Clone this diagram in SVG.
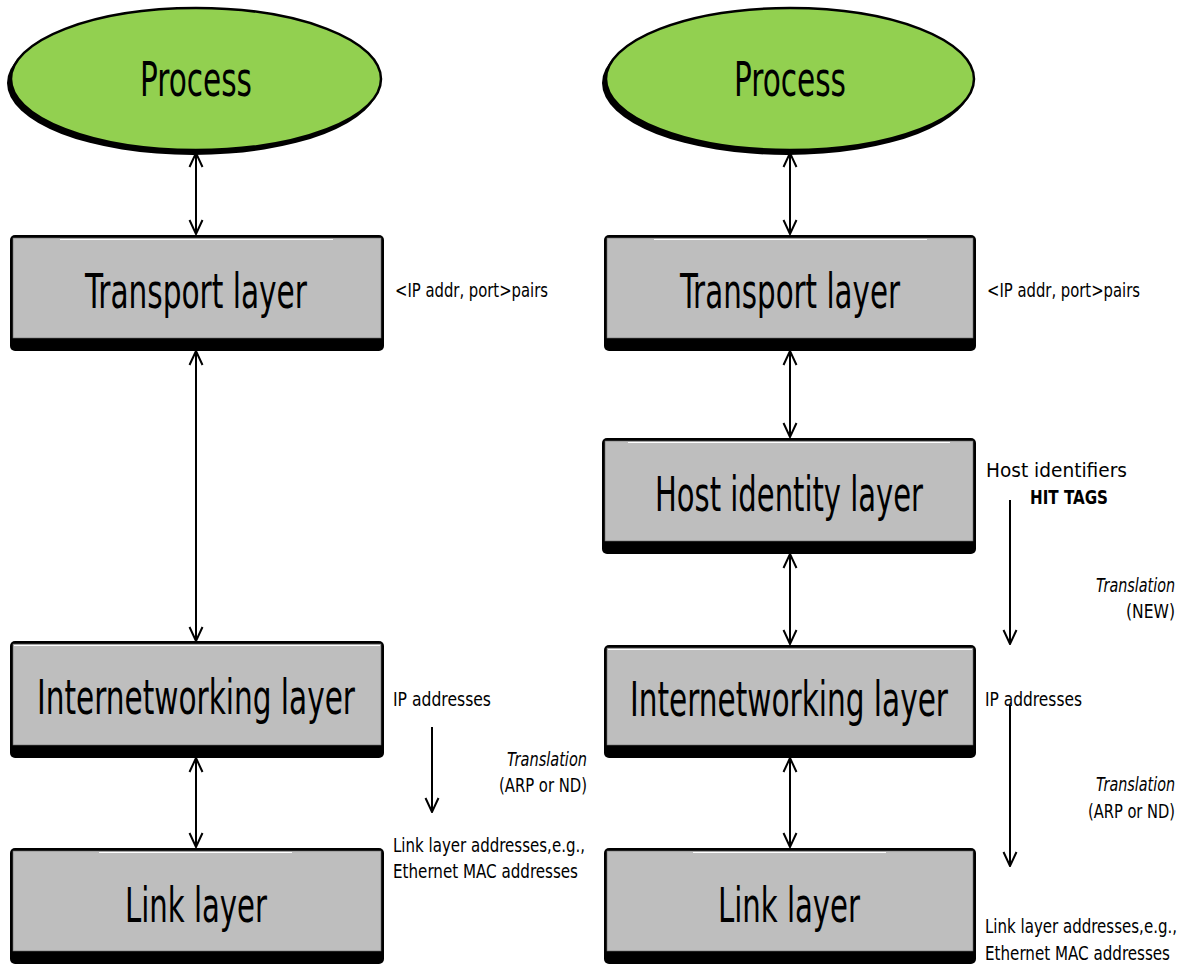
<svg xmlns="http://www.w3.org/2000/svg" width="1183" height="966" viewBox="0 0 1183 966">
  <style>
    text { font-family: "DejaVu Sans Condensed", "DejaVu Sans", sans-serif; fill: #000; }
    .big { font-size: 48px; text-anchor: middle; }
    .lbl { font-size: 20px; }
    .it { font-style: italic; text-anchor: end; }
    .rt { text-anchor: end; }
    .bold { font-weight: bold; }
    .shadow { fill: #000; }
    .face { fill: #BEBEBE; stroke: #6a6a6a; stroke-width: 0.6; }
    .hl { stroke: #fff; stroke-width: 1.2; }
    .oval { fill: #92D050; stroke: #000; stroke-width: 2.5; }
    .link { stroke: #000; stroke-width: 2; fill: none; }
  </style>
  <defs>
    <marker id="head" viewBox="0 0 16 16" refX="15" refY="8" markerWidth="16" markerHeight="16" markerUnits="userSpaceOnUse" orient="auto-start-reverse">
      <path d="M1,1.5 L15,8 L1,14.5" fill="none" stroke="#000" stroke-width="2"/>
    </marker>
  </defs>

  <rect width="1183" height="966" fill="#fff"/>

  <!-- connectors -->
  <g id="connectors">
    <line class="link" x1="196" y1="153" x2="196" y2="234" marker-start="url(#head)" marker-end="url(#head)"/>
    <line class="link" x1="196" y1="351" x2="196" y2="641" marker-start="url(#head)" marker-end="url(#head)"/>
    <line class="link" x1="196" y1="758" x2="196" y2="847" marker-start="url(#head)" marker-end="url(#head)"/>
    <line class="link" x1="790" y1="153" x2="790" y2="234" marker-start="url(#head)" marker-end="url(#head)"/>
    <line class="link" x1="790" y1="351" x2="790" y2="437" marker-start="url(#head)" marker-end="url(#head)"/>
    <line class="link" x1="790" y1="554" x2="790" y2="644" marker-start="url(#head)" marker-end="url(#head)"/>
    <line class="link" x1="790" y1="758" x2="790" y2="847" marker-start="url(#head)" marker-end="url(#head)"/>
    <line class="link" x1="432" y1="727" x2="432" y2="812" marker-end="url(#head)"/>
    <line class="link" x1="1010" y1="500" x2="1010" y2="644" marker-end="url(#head)"/>
    <line class="link" x1="1010" y1="705" x2="1010" y2="866" marker-end="url(#head)"/>
  </g>

  <!-- left stack -->
  <g id="process-left">
    <ellipse class="shadow" cx="193" cy="83" rx="186" ry="72"/>
    <ellipse class="oval" cx="196" cy="79" rx="185" ry="71"/>
    <text class="big" x="196" y="96" textLength="112" lengthAdjust="spacingAndGlyphs">Process</text>
  </g>
  <g id="transport-left">
    <rect class="shadow" x="10" y="235" width="374" height="116" rx="5"/>
    <rect class="face" x="13" y="238" width="368" height="100"/>
    <line class="hl" x1="60" y1="239.5" x2="333" y2="239.5"/>
    <text class="big" x="196" y="308" textLength="222" lengthAdjust="spacingAndGlyphs">Transport layer</text>
    <text class="lbl" x="395" y="297" textLength="153" lengthAdjust="spacingAndGlyphs">&lt;IP addr, port&gt;pairs</text>
  </g>
  <g id="internet-left">
    <rect class="shadow" x="10" y="641" width="374" height="117" rx="5"/>
    <rect class="face" x="13" y="644" width="368" height="101"/>
    <line class="hl" x1="14" y1="645.5" x2="380" y2="645.5"/>
    <text class="big" x="196" y="714" textLength="318" lengthAdjust="spacingAndGlyphs">Internetworking layer</text>
    <text class="lbl" x="393" y="706" textLength="98" lengthAdjust="spacingAndGlyphs">IP addresses</text>
    <text class="lbl it" x="587" y="766" textLength="80" lengthAdjust="spacingAndGlyphs">Translation</text>
    <text class="lbl rt" x="587" y="792" textLength="88" lengthAdjust="spacingAndGlyphs">(ARP or ND)</text>
  </g>
  <g id="link-left">
    <rect class="shadow" x="10" y="848" width="374" height="116" rx="5"/>
    <rect class="face" x="13" y="851" width="368" height="100"/>
    <line class="hl" x1="99" y1="852.5" x2="292" y2="852.5"/>
    <text class="big" x="196" y="922" textLength="142" lengthAdjust="spacingAndGlyphs">Link layer</text>
    <text class="lbl" x="393" y="852" textLength="192" lengthAdjust="spacingAndGlyphs">Link layer addresses,e.g.,</text>
    <text class="lbl" x="393" y="878" textLength="185" lengthAdjust="spacingAndGlyphs">Ethernet MAC addresses</text>
  </g>

  <!-- right stack -->
  <g id="process-right">
    <ellipse class="shadow" cx="787" cy="83" rx="185" ry="72"/>
    <ellipse class="oval" cx="790" cy="79" rx="184" ry="71"/>
    <text class="big" x="790" y="96" textLength="112" lengthAdjust="spacingAndGlyphs">Process</text>
  </g>
  <g id="transport-right">
    <rect class="shadow" x="604" y="235" width="372" height="116" rx="5"/>
    <rect class="face" x="607" y="238" width="366" height="100"/>
    <line class="hl" x1="654" y1="239.5" x2="927" y2="239.5"/>
    <text class="big" x="790" y="308" textLength="220" lengthAdjust="spacingAndGlyphs">Transport layer</text>
    <text class="lbl" x="987" y="297" textLength="153" lengthAdjust="spacingAndGlyphs">&lt;IP addr, port&gt;pairs</text>
  </g>
  <g id="hip-right">
    <rect class="shadow" x="602" y="438" width="374" height="116" rx="5"/>
    <rect class="face" x="605" y="441" width="368" height="100"/>
    <line class="hl" x1="628" y1="442.5" x2="950" y2="442.5"/>
    <text class="big" x="789" y="511" textLength="268" lengthAdjust="spacingAndGlyphs">Host identity layer</text>
    <text class="lbl" x="986" y="477" textLength="141" lengthAdjust="spacingAndGlyphs">Host identifiers</text>
    <text class="lbl bold" x="1030" y="504" textLength="78" lengthAdjust="spacingAndGlyphs">HIT TAGS</text>
    <text class="lbl it" x="1175" y="592" textLength="79" lengthAdjust="spacingAndGlyphs">Translation</text>
    <text class="lbl rt" x="1175" y="618" textLength="49" lengthAdjust="spacingAndGlyphs">(NEW)</text>
  </g>
  <g id="internet-right">
    <rect class="shadow" x="604" y="645" width="372" height="113" rx="5"/>
    <rect class="face" x="607" y="648" width="366" height="97"/>
    <line class="hl" x1="608" y1="649.5" x2="972" y2="649.5"/>
    <text class="big" x="789" y="716" textLength="318" lengthAdjust="spacingAndGlyphs">Internetworking layer</text>
    <text class="lbl" x="985" y="706" textLength="97" lengthAdjust="spacingAndGlyphs">IP addresses</text>
    <text class="lbl it" x="1175" y="791" textLength="79" lengthAdjust="spacingAndGlyphs">Translation</text>
    <text class="lbl rt" x="1175" y="818" textLength="87" lengthAdjust="spacingAndGlyphs">(ARP or ND)</text>
  </g>
  <g id="link-right">
    <rect class="shadow" x="604" y="848" width="372" height="116" rx="5"/>
    <rect class="face" x="607" y="851" width="366" height="100"/>
    <line class="hl" x1="693" y1="852.5" x2="886" y2="852.5"/>
    <text class="big" x="789" y="922" textLength="142" lengthAdjust="spacingAndGlyphs">Link layer</text>
    <text class="lbl" x="985" y="933" textLength="192" lengthAdjust="spacingAndGlyphs">Link layer addresses,e.g.,</text>
    <text class="lbl" x="985" y="960" textLength="185" lengthAdjust="spacingAndGlyphs">Ethernet MAC addresses</text>
  </g>
</svg>
